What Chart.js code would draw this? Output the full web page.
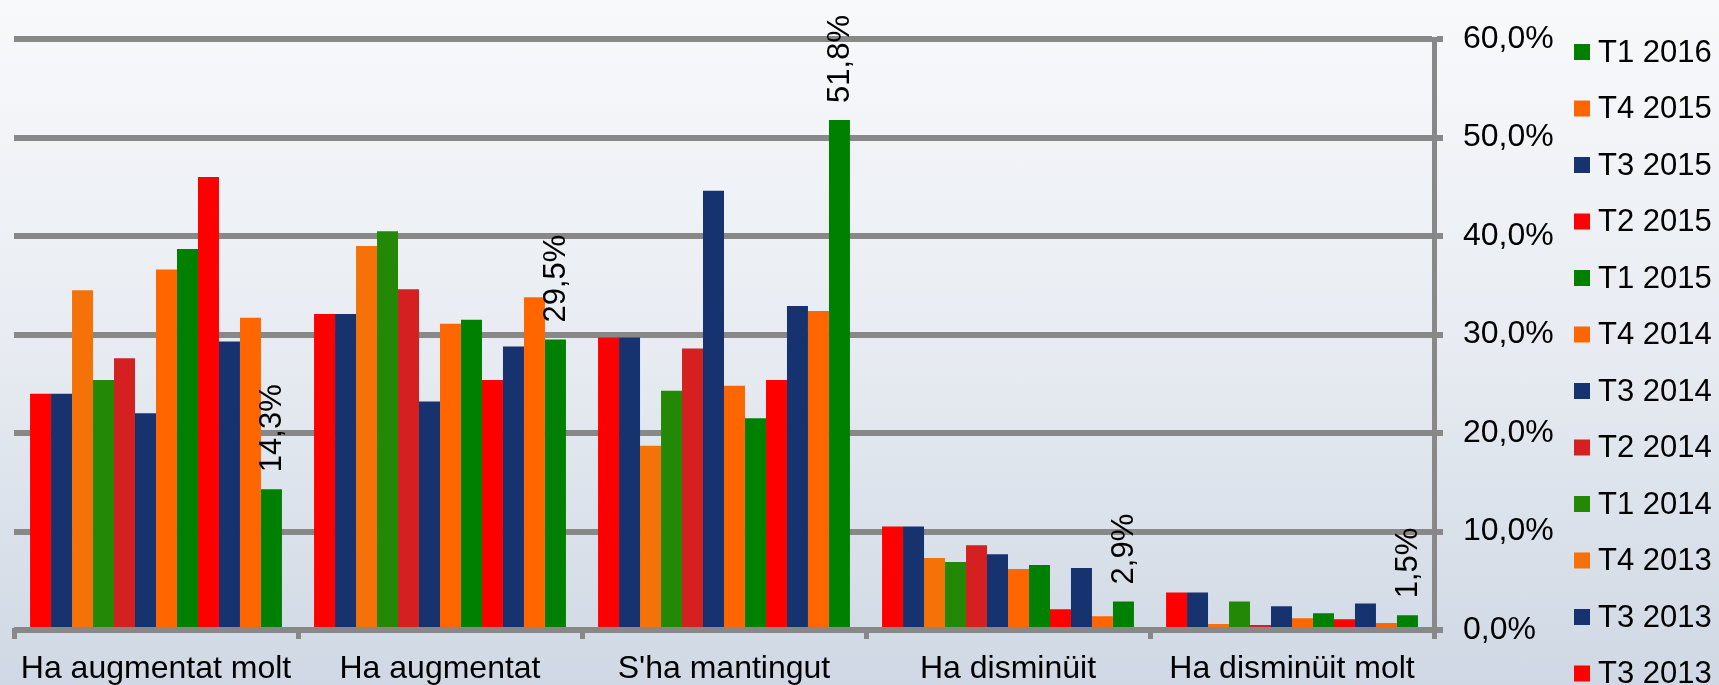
<!DOCTYPE html>
<html>
<head>
<meta charset="utf-8">
<script src="https://cdn.jsdelivr.net/npm/chart.js@4.4.1/dist/chart.umd.min.js"></script>
<style>
  html, body { margin: 0; padding: 0; overflow: hidden; }
  body { width: 1719px; height: 685px; background: linear-gradient(to bottom, #f8f9fb 0%, #e8ecf2 50%, #cfd8e4 100%); }
  #wrap { position: absolute; left: 0; top: 0; width: 1719px; height: 685px; }
</style>
</head>
<body>
<div id="wrap"><canvas id="c" width="1719" height="685"></canvas></div>
<script>
// ---- Data ----
const categories = ["Ha augmentat molt", "Ha augmentat", "S'ha mantingut", "Ha disminüit", "Ha disminüit molt"];
const seriesNames = ["T3 2013", "T3 2013", "T4 2013", "T1 2014", "T2 2014", "T3 2014", "T4 2014", "T1 2015", "T2 2015", "T3 2015", "T4 2015", "T1 2016"];
const t3_2013_a = [24.0, 32.1, 29.7, 10.5, 3.8];
const t3_2013_b = [24.0, 32.1, 29.7, 10.5, 3.8];
const t4_2013   = [34.5, 39.0, 18.7, 7.3, 0.6];
const t1_2014   = [25.4, 40.5, 24.3, 6.9, 2.9];
const t2_2014   = [27.6, 34.6, 28.6, 8.6, 0.5];
const t3_2014   = [22.0, 23.2, 44.6, 7.7, 2.4];
const t4_2014   = [36.6, 31.1, 24.8, 6.2, 1.2];
const t1_2015   = [38.7, 31.5, 21.5, 6.6, 1.7];
const t2_2015   = [46.0, 25.4, 25.4, 2.1, 1.1];
const t3_2015   = [29.3, 28.8, 32.9, 6.3, 2.7];
const t4_2015   = [31.7, 33.8, 32.4, 1.4, 0.7];
const t1_2016   = [14.3, 29.5, 51.8, 2.9, 1.5];
const seriesValues = [t3_2013_a, t3_2013_b, t4_2013, t1_2014, t2_2014, t3_2014, t4_2014, t1_2015, t2_2015, t3_2015, t4_2015, t1_2016];
const yTicks = [0, 10, 20, 30, 40, 50, 60];

// ---- Styles ----
const seriesColors = ["#ff0000", "#17336f", "#f57208", "#238806", "#d42020", "#17336f", "#ff6600", "#008000", "#ff0000", "#17336f", "#ff6600", "#008000"];
const FONT = "'Liberation Sans', Arial, sans-serif";
const fmt = v => v.toFixed(1).replace('.', ',') + '%';

const datasets = seriesValues.map((vals, i) => ({
  label: seriesNames[i],
  data: vals,
  backgroundColor: seriesColors[i],
  borderWidth: 0,
  categoryPercentage: 0.887,
  barPercentage: 1.0
}));

const labelPlugin = {
  id: 'lastSeriesLabels',
  afterDatasetsDraw(chart) {
    const idx = chart.data.datasets.length - 1;
    const meta = chart.getDatasetMeta(idx);
    const ctx = chart.ctx;
    ctx.save();
    ctx.fillStyle = '#000';
    ctx.font = '31px ' + FONT;
    ctx.textAlign = 'left';
    ctx.textBaseline = 'middle';
    meta.data.forEach((bar, j) => {
      const v = chart.data.datasets[idx].data[j];
      ctx.save();
      ctx.translate(bar.x + 1, bar.y - 17);
      ctx.rotate(-Math.PI / 2);
      ctx.fillText(fmt(v), 0, 0);
      ctx.restore();
    });
    ctx.restore();
  }
};

const legendPlugin = {
  id: 'sideLegend',
  afterDraw(chart) {
    const ctx = chart.ctx;
    const ds = chart.data.datasets;
    ctx.save();
    ctx.font = '31px ' + FONT;
    ctx.textAlign = 'left';
    ctx.textBaseline = 'middle';
    for (let k = 0; k < ds.length; k++) {
      const d = ds[ds.length - 1 - k];
      const cy = 52 + k * 56.5;
      ctx.fillStyle = d.backgroundColor;
      ctx.fillRect(1574, cy - 8, 16, 16);
      ctx.fillStyle = '#000';
      ctx.fillText(d.label, 1598, cy + 1);
    }
    ctx.restore();
  }
};

new Chart(document.getElementById('c'), {
  type: 'bar',
  data: { labels: categories, datasets },
  plugins: [labelPlugin, legendPlugin],
  options: {
    responsive: false,
    devicePixelRatio: 1,
    animation: false,
    layout: { padding: { left: 14, right: 145, top: 36, bottom: 0 } },
    plugins: { legend: { display: false }, tooltip: { enabled: false } },
    scales: {
      x: {
        offset: true,
        grid: { display: true, offset: true, drawOnChartArea: false, drawTicks: true, tickLength: 9, lineWidth: 5, color: '#888888' },
        border: { display: true, width: 5, color: '#888888' },
        ticks: { color: '#000', font: { family: FONT, size: 32 }, padding: 11, maxRotation: 0, autoSkip: false },
        afterFit(s) { s.height = 55; }
      },
      y: {
        position: 'right',
        min: 0, max: 60,
        afterBuildTicks(s) { s.ticks = yTicks.map(v => ({ value: v })); },
        grid: { color: '#888888', lineWidth: 6, drawTicks: true, tickLength: 9 },
        border: { display: true, width: 5, color: '#888888' },
        ticks: { color: '#000', font: { family: FONT, size: 32 }, padding: 20, callback: v => fmt(v) },
        afterFit(s) { s.width = 140; }
      }
    }
  }
});
</script>
</body>
</html>
